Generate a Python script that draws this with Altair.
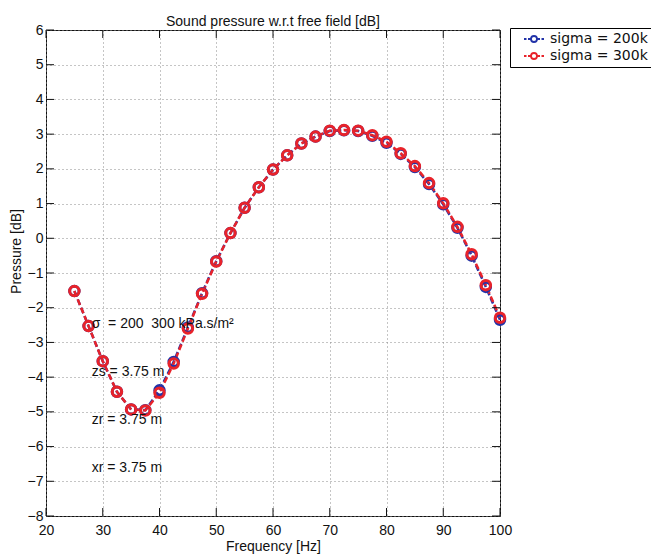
import altair as alt
import pandas as pd

# ---- data ----
freq = [25, 27.5, 30, 32.5, 35, 37.5, 40, 42.5, 45, 47.5, 50, 52.5, 55, 57.5, 60,
        62.5, 65, 67.5, 70, 72.5, 75, 77.5, 80, 82.5, 85, 87.5, 90, 92.5, 95, 97.5, 100]
p200 = [-1.52, -2.53, -3.54, -4.42, -4.93, -4.95, -4.38, -3.56, -2.57, -1.58, -0.66,
        0.15, 0.88, 1.47, 1.98, 2.39, 2.73, 2.93, 3.09, 3.11, 3.09, 2.95, 2.75, 2.43,
        2.05, 1.56, 0.98, 0.30, -0.50, -1.40, -2.35]
p300 = [-1.52, -2.53, -3.54, -4.42, -4.93, -4.96, -4.45, -3.61, -2.60, -1.60, -0.67,
        0.15, 0.88, 1.47, 1.98, 2.39, 2.73, 2.93, 3.10, 3.12, 3.10, 2.97, 2.78, 2.45,
        2.08, 1.59, 1.01, 0.33, -0.46, -1.35, -2.29]
series_names = ["sigma = 200k", "sigma = 300k"]
colors = ["#2233a8", "#e8232a"]
x_ticks = [20, 30, 40, 50, 60, 70, 80, 90, 100]
y_ticks = [-8, -7, -6, -5, -4, -3, -2, -1, 0, 1, 2, 3, 4, 5, 6]
ann_text = ["σ\u00a0 = 200\u00a0 300 kPa.s/m²", "zs = 3.75 m", "zr = 3.75 m", "xr = 3.75 m"]
ann_x = [28.05, 28.05, 28.05, 28.05]
ann_y = [-2.47, -3.84, -5.24, -6.63]

rows = []
for name, vals in zip(series_names, [p200, p300]):
    for f, v in zip(freq, vals):
        rows.append({"freq": f, "pressure": v, "series": name})
df = pd.DataFrame(rows)
ann = pd.DataFrame({"x": ann_x, "y": ann_y, "t": ann_text})
xt = pd.DataFrame({"v": x_ticks})
yt = pd.DataFrame({"v": y_ticks})

W, H, TK = 454, 486, 8
FONT = "Liberation Sans"
xscale = alt.Scale(domain=[20, 100], nice=False, zero=False)
yscale = alt.Scale(domain=[-8, 6], nice=False, zero=False)
cscale = alt.Scale(domain=series_names, range=colors)

sym = ("M-3.33,0H-2.5M-2.0,0H-1.2M1,0A1,1,0,1,1,-1,0A1,1,0,1,1,1,0"
       "M1.2,0H2.0M2.5,0H3.33")
legend = alt.Legend(title=None, orient="none", legendX=464, legendY=-2,
                    symbolType=sym, symbolSize=36, symbolStrokeWidth=1.8,
                    labelFont="DejaVu Sans", labelFontSize=14, labelColor="#111",
                    strokeColor="black", fillColor="white", padding=4,
                    rowPadding=3, labelOffset=9, symbolOffset=13)

common_axis = dict(domain=False, ticks=False,
                   labelFont=FONT, labelFontSize=14, labelColor="#111",
                   labelFlush=False, labelOverlap=False,
                   titleFont=FONT, titleFontSize=14, titleFontWeight="normal",
                   titleColor="#111", grid=True, gridDash=[1, 3], gridColor="#8a8a8a")
xaxis = alt.Axis(values=x_ticks, labelPadding=7, title="Frequency [Hz]",
                 titlePadding=2, **common_axis)
yaxis = alt.Axis(values=y_ticks, labelPadding=3, title="Pressure [dB]",
                 titleX=-30, titleY=221, titleAlign="center", titleBaseline="middle",
                 titleAngle=270, **common_axis)

base = alt.Chart(df)
lines = base.mark_line(strokeDash=[6, 3], strokeWidth=2.5).encode(
    x=alt.X("freq:Q", scale=xscale, axis=xaxis),
    y=alt.Y("pressure:Q", scale=yscale, axis=yaxis),
    color=alt.Color("series:N", scale=cscale, legend=legend),
)
points = base.mark_point(filled=False, size=90, strokeWidth=3, opacity=1).encode(
    x=alt.X("freq:Q", scale=xscale, axis=xaxis),
    y=alt.Y("pressure:Q", scale=yscale, axis=yaxis),
    color=alt.Color("series:N", scale=cscale, legend=legend),
)
text = alt.Chart(ann).mark_text(align="left", baseline="middle", font=FONT,
                                fontSize=14, color="#111").encode(
    x=alt.X("x:Q", scale=xscale, axis=xaxis),
    y=alt.Y("y:Q", scale=yscale, axis=yaxis),
    text="t:N",
)

# inward tick marks on all four sides (MATLAB box style)
tick_style = dict(color="#111", strokeWidth=1)
xb = alt.Chart(xt).mark_rule(**tick_style).encode(
    x=alt.X("v:Q", scale=xscale, axis=xaxis), y=alt.value(H - TK), y2=alt.value(H))
xtp = alt.Chart(xt).mark_rule(**tick_style).encode(
    x=alt.X("v:Q", scale=xscale, axis=xaxis), y=alt.value(0), y2=alt.value(TK))
yl = alt.Chart(yt).mark_rule(**tick_style).encode(
    y=alt.Y("v:Q", scale=yscale, axis=yaxis), x=alt.value(0), x2=alt.value(TK))
yr = alt.Chart(yt).mark_rule(**tick_style).encode(
    y=alt.Y("v:Q", scale=yscale, axis=yaxis), x=alt.value(W - TK), x2=alt.value(W))

chart = alt.layer(lines, points, text, xb, xtp, yl, yr).properties(
    width=W, height=H,
    autosize="none",
    padding={"left": 38, "top": 22, "right": 151, "bottom": 44},
    title=alt.Title("Sound pressure w.r.t free field [dB]", font=FONT, fontSize=14,
                    fontWeight="normal", color="#111", offset=0, dy=6, frame="group"),
).configure_view(stroke="#111", strokeWidth=1)

chart.save("out.html", embed_options={"renderer": "svg", "actions": False})
